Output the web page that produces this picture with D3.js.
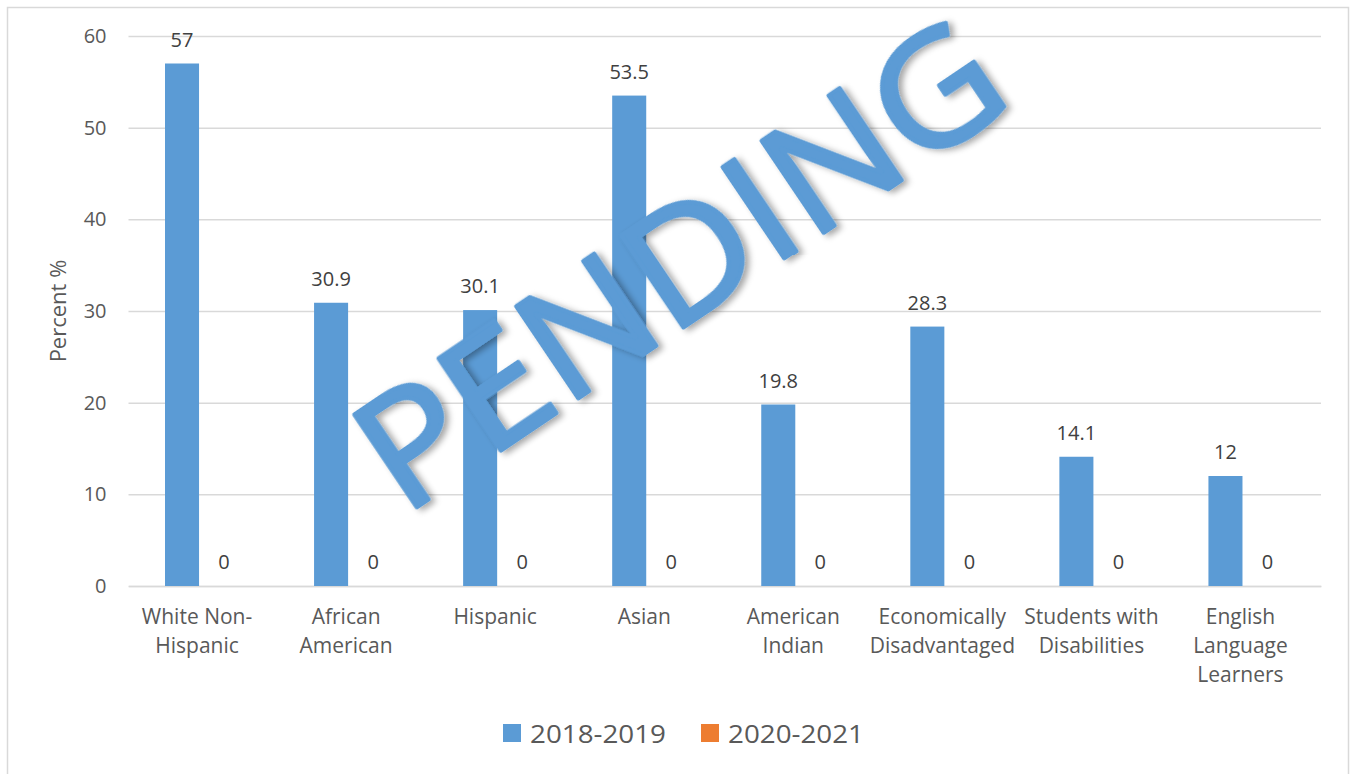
<!DOCTYPE html>
<html>
<head>
<meta charset="utf-8">
<script src="https://cdn.jsdelivr.net/npm/d3@7"></script>
<style>
  html, body { margin: 0; padding: 0; background: #fff; }
  svg { display: block; }
  text { font-family: "Open Sans", "Noto Sans", sans-serif; }
</style>
</head>
<body>
<svg id="chart" width="1351" height="774"></svg>
<script>
const categories = [
  ["White Non-", "Hispanic"],
  ["African", "American"],
  ["Hispanic"],
  ["Asian"],
  ["American", "Indian"],
  ["Economically", "Disadvantaged"],
  ["Students with", "Disabilities"],
  ["English", "Language", "Learners"]
];
const seriesNames = ["2018-2019", "2020-2021"];
const values2018 = [57, 30.9, 30.1, 53.5, 19.8, 28.3, 14.1, 12];
const values2020 = [0, 0, 0, 0, 0, 0, 0, 0];
const yTicks = [0, 10, 20, 30, 40, 50, 60];
const colors = ["#5B9BD5", "#ED7D31"];
const watermark = "PENDING";

const svg = d3.select("#chart");
const catKeys = categories.map(c => c.join(" "));

// frame
svg.append("rect").attr("x", 7.5).attr("y", 7.5).attr("width", 1341).attr("height", 800)
  .attr("fill", "#fff").attr("stroke", "#d9d9d9").attr("stroke-width", 1.5);

const plotLeft = 128.5, plotRight = 1321, plotTop = 36, plotBottom = 586;
const y = d3.scaleLinear().domain([0, 60]).range([plotBottom, plotTop]);
const x = d3.scaleBand().domain(catKeys).range([plotLeft, plotRight]).padding(0);
const bw = x.bandwidth();
const xs = d3.scaleBand().domain(seriesNames).range([36.5, bw - 36.5]).paddingInner(0.19);

// gridlines
const yAxis = d3.axisLeft(y).tickValues(yTicks).tickSize(-(plotRight - plotLeft)).tickPadding(22).tickFormat(d3.format("d"));
const gy = svg.append("g").attr("transform", `translate(${plotLeft},0)`).call(yAxis);
gy.select(".domain").remove();
gy.selectAll(".tick line").attr("stroke", "#d9d9d9").attr("stroke-width", 1.5);
gy.selectAll(".tick text").attr("fill", "#595959").attr("font-size", 20)
  .attr("font-family", "'Open Sans', sans-serif");

// x axis
const xAxis = d3.axisBottom(x).tickSize(0).tickFormat("");
const gx = svg.append("g").attr("transform", `translate(0,${plotBottom})`).call(xAxis);
gx.select(".domain").attr("stroke", "#d9d9d9").attr("stroke-width", 1.5);

// category labels
const labG = svg.append("g");
categories.forEach((lines, i) => {
  const cx = x(catKeys[i]) + bw / 2 - 6;
  const t = labG.append("text").attr("x", cx).attr("y", 624)
    .attr("text-anchor", "middle").attr("fill", "#595959").attr("font-size", 21);
  lines.forEach((ln, j) => {
    t.append("tspan").attr("x", cx).attr("y", 624 + j * 29).text(ln);
  });
});

// bars
const data = catKeys.map((k, i) => ({ key: k, vals: [values2018[i], values2020[i]] }));
const groups = svg.append("g").selectAll("g").data(data).join("g")
  .attr("transform", d => `translate(${x(d.key)},0)`);
groups.selectAll("rect").data(d => d.vals.map((v, j) => ({ s: seriesNames[j], v, j })))
  .join("rect")
  .attr("x", d => xs(d.s)).attr("width", xs.bandwidth())
  .attr("y", d => y(d.v)).attr("height", d => y(0) - y(d.v))
  .attr("fill", d => colors[d.j]);
groups.selectAll("text.val").data(d => d.vals.map((v, j) => ({ s: seriesNames[j], v, j })))
  .join("text").attr("class", "val")
  .attr("x", d => xs(d.s) + xs.bandwidth() / 2)
  .attr("y", d => y(d.v) - 17)
  .attr("text-anchor", "middle").attr("fill", "#404040").attr("font-size", 20)
  .text(d => d.v);

// y axis title
svg.append("text").attr("transform", "translate(66,311) rotate(-90)")
  .attr("text-anchor", "middle").attr("fill", "#595959").attr("font-size", 22)
  .text("Percent %");

// legend
const leg = svg.append("g");
const legX = [503, 701];
seriesNames.forEach((s, i) => {
  leg.append("rect").attr("x", legX[i]).attr("y", 724).attr("width", 18).attr("height", 18).attr("fill", colors[i]);
  leg.append("text").attr("x", legX[i] + 27).attr("y", 743).attr("fill", "#595959")
    .attr("font-size", 26).attr("textLength", 136).attr("lengthAdjust", "spacingAndGlyphs").text(s);
});

// watermark
const defs = svg.append("defs");
const f = defs.append("filter").attr("id", "shadow").attr("x", "-20%").attr("y", "-20%").attr("width", "140%").attr("height", "140%");
f.append("feDropShadow").attr("dx", 3).attr("dy", 4).attr("stdDeviation", 3)
  .attr("flood-color", "#000").attr("flood-opacity", 0.35);
svg.append("text").attr("transform", "translate(676,259) rotate(-34)")
  .attr("text-anchor", "middle").attr("dominant-baseline", "central")
  .attr("font-size", 156).attr("font-weight", 400).attr("fill", "#5B9BD5")
  .attr("stroke", "#5B9BD5").attr("stroke-width", 4).attr("stroke-linejoin", "round")
  .attr("textLength", 740).attr("lengthAdjust", "spacingAndGlyphs")
  .attr("filter", "url(#shadow)").text(watermark);
</script>
</body>
</html>
